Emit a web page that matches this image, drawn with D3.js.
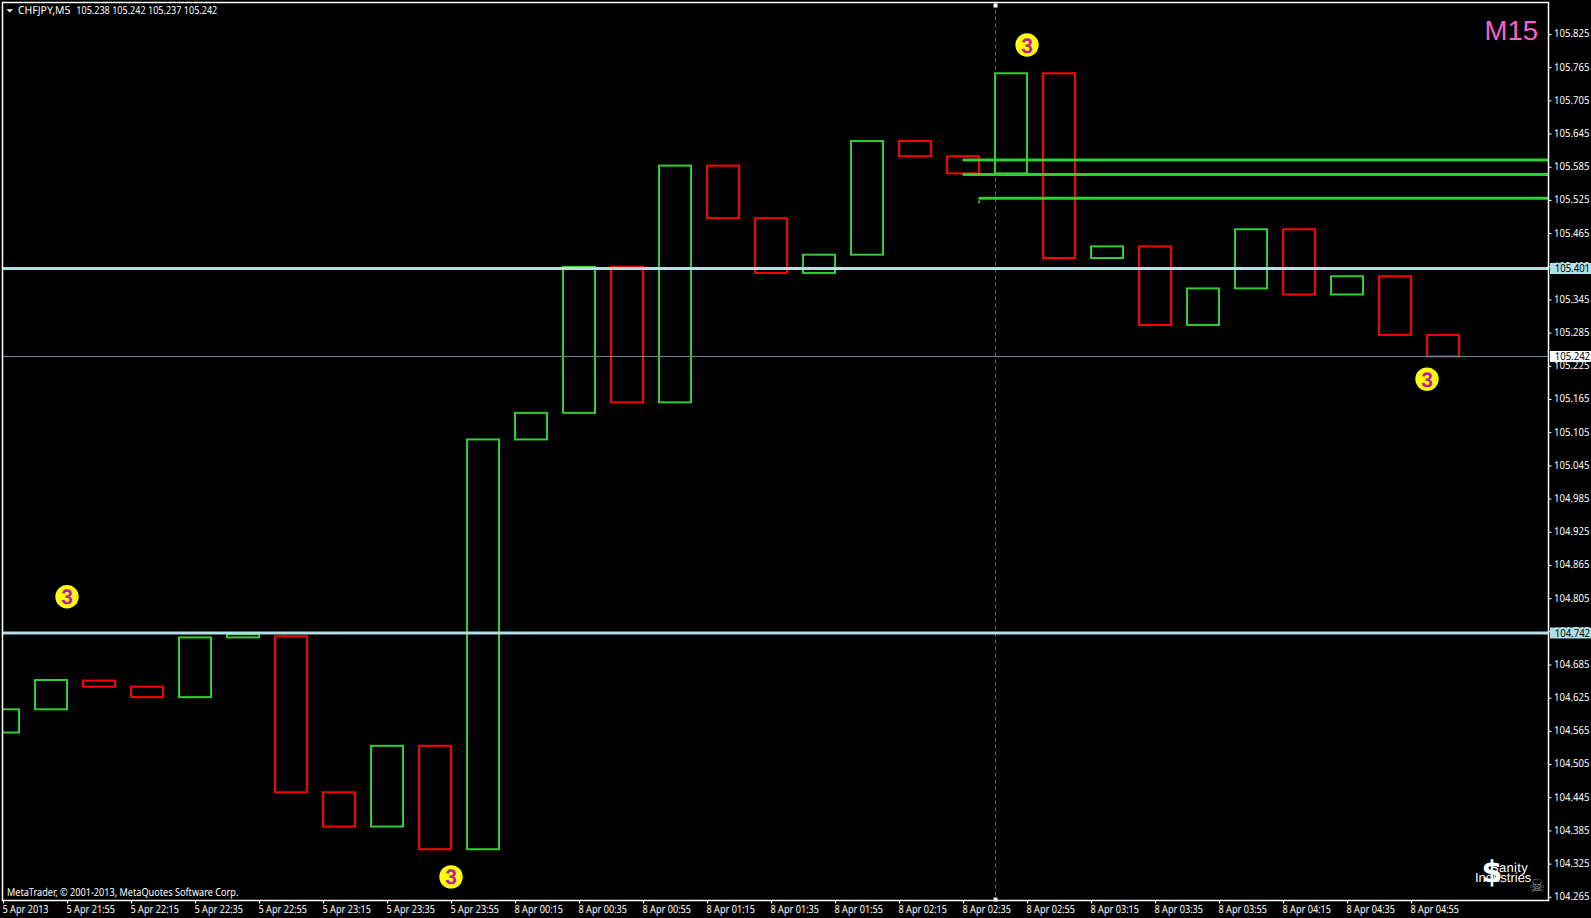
<!DOCTYPE html>
<html><head><meta charset="utf-8">
<script src="https://cdn.jsdelivr.net/npm/d3@7"></script>
<style>
html,body{margin:0;padding:0;background:#000;overflow:hidden}
svg{display:block}
text{font-family:"Noto Sans",sans-serif;fill:#fff;text-rendering:geometricPrecision}
</style></head><body>
<svg id="c" width="1591" height="918"></svg>
<script>
const symbolName = "CHFJPY,M5";
const symbolValues = "105.238 105.242 105.237 105.242";
const copyright = "MetaTrader, © 2001-2013, MetaQuotes Software Corp.";
const timeframe = "M15";
const candleBars = [0,3,6,9,12,15,18,21,24,27,30,33,36,39,42,45,48,51,54,57,60,63,66,69,72,75,78,81,84,87,90];
const opens  = [104.562,104.604,104.656,104.645,104.626,104.734,104.736,104.454,104.392,104.538,104.351,105.092,105.140,105.404,105.159,105.587,105.492,105.393,105.426,105.6315,105.604,105.573,105.754,105.420,105.441,105.299,105.365,105.472,105.354,105.387,105.281];
const closes = [104.604,104.657,104.645,104.626,104.734,104.740,104.454,104.392,104.538,104.351,105.092,105.140,105.404,105.159,105.587,105.492,105.393,105.426,105.6315,105.604,105.573,105.754,105.420,105.441,105.299,105.365,105.472,105.354,105.387,105.281,105.242];
const priceTicks = [105.825,105.765,105.705,105.645,105.585,105.525,105.465,105.405,105.345,105.285,105.225,105.165,105.105,105.045,104.985,104.925,104.865,104.805,104.745,104.685,104.625,104.565,104.505,104.445,104.385,104.325,104.265];
const timeTickBars = [0,4,8,12,16,20,24,28,32,36,40,44,48,52,56,60,64,68,72,76,80,84,88];
const timeLabels = ["5 Apr 2013","5 Apr 21:55","5 Apr 22:15","5 Apr 22:35","5 Apr 22:55","5 Apr 23:15","5 Apr 23:35","5 Apr 23:55","8 Apr 00:15","8 Apr 00:35","8 Apr 00:55","8 Apr 01:15","8 Apr 01:35","8 Apr 01:55","8 Apr 02:15","8 Apr 02:35","8 Apr 02:55","8 Apr 03:15","8 Apr 03:35","8 Apr 03:55","8 Apr 04:15","8 Apr 04:35","8 Apr 04:55"];
const levelPrices = [105.401,104.742];
const currentPrice = 105.242;
const trendPrices = [105.597,105.571,105.528];
const trendStartBars = [60,60,61];
const crosshairBar = 62;
const badgeBars = [4,64,28,89];
const badgePrices = [104.8075,105.805,104.301,105.201];

const svg = d3.select("#c");
const L=2.5,T=2.5,R=1548.5,B=900.5;
const x = d3.scaleLinear().domain([0,88]).range([3,1411]);
const y = d3.scaleLinear().domain([105.825,104.265]).range([34,896.8]);
const UP="#32cd32",DOWN="#ff0000",LEVEL="#b0e0e6";
const fontSize="11px";
function squeeze(sel,k){
  sel.each(function(){
    const w=this.getComputedTextLength();
    this.setAttribute("textLength",w*k);
    this.setAttribute("lengthAdjust","spacingAndGlyphs");
  });
}

const defs=svg.append("defs");
defs.append("clipPath").attr("id","plot").append("rect").attr("x",L).attr("y",T).attr("width",R-L).attr("height",B-T);
const plot=svg.append("g").attr("clip-path","url(#plot)");

// crosshair
plot.append("line").attr("x1",x(crosshairBar)+.5).attr("x2",x(crosshairBar)+.5).attr("y1",T).attr("y2",B)
  .attr("stroke","#4f6a62").attr("stroke-dasharray","4 3");

// candles
plot.selectAll("rect.candle").data(candleBars).join("rect").attr("class","candle")
  .attr("x",d=>x(d-1)).attr("width",d=>x(d+1)-x(d-1))
  .attr("y",(d,i)=>y(Math.max(opens[i],closes[i])))
  .attr("height",(d,i)=>Math.abs(y(opens[i])-y(closes[i])))
  .attr("fill","none").attr("stroke-width",2)
  .attr("stroke",(d,i)=>closes[i]>=opens[i]?UP:DOWN);

// horizontal levels
plot.selectAll("line.level").data(levelPrices).join("line").attr("class","level")
  .attr("x1",L).attr("x2",R).attr("y1",d=>y(d)).attr("y2",d=>y(d))
  .attr("stroke",LEVEL).attr("stroke-width",3);
plot.append("line").attr("x1",L).attr("x2",R).attr("y1",y(currentPrice)).attr("y2",y(currentPrice))
  .attr("stroke","#778899").attr("stroke-width",1);

// green trend lines with their small start marks
plot.selectAll("line.trend").data(trendPrices).join("line").attr("class","trend")
  .attr("x1",(d,i)=>x(trendStartBars[i])).attr("x2",R).attr("y1",d=>y(d)).attr("y2",d=>y(d))
  .attr("stroke",UP).attr("stroke-width",3);
plot.selectAll("line.trendmark").data(trendPrices).join("line").attr("class","trendmark")
  .attr("x1",(d,i)=>x(trendStartBars[i])-1.5).attr("x2",(d,i)=>x(trendStartBars[i])).attr("y1",d=>y(d)).attr("y2",d=>y(d))
  .attr("stroke",UP).attr("stroke-width",1);
plot.append("path").attr("d",`M${x(61)-1.5} ${y(105.528)+3.5}h3M${x(61)} ${y(105.528)+1.5}v4`).attr("stroke",UP).attr("fill","none");

// circled 3 badges
const badge=svg.append("g").selectAll("g").data(badgeBars).join("g")
  .attr("transform",(d,i)=>`translate(${x(d)},${y(badgePrices[i])})`);
badge.append("circle").attr("r",11.7).attr("fill","#ffff00");
badge.append("text").text("3").attr("text-anchor","middle").attr("y",7.5)
  .style("font-family","'Liberation Sans'").style("font-weight","bold").style("font-size","21px").style("fill","#c01ea0");

// frame
svg.append("rect").attr("x",L).attr("y",T).attr("width",R-L).attr("height",B-T).attr("fill","none").attr("stroke","#fff").attr("stroke-width",1.5);
svg.selectAll("rect.mk").data([T+3,B-1]).join("rect").attr("class","mk").attr("x",x(crosshairBar)-1.5).attr("y",d=>d-2).attr("width",4).attr("height",4).attr("fill","#fff");

// axes
const yAxis=d3.axisRight(y).tickValues(priceTicks).tickFormat(d3.format(".3f")).tickSize(3).tickPadding(3);
const ya=svg.append("g").attr("transform",`translate(${R},0)`).call(yAxis);
ya.select(".domain").remove();
ya.selectAll("line").attr("stroke","#fff");
ya.selectAll("text").style("font-size",fontSize).style("fill","#fff").attr("x",5.5).attr("y",-.6).call(squeeze,.87);

const xAxis=d3.axisBottom(x).tickValues(timeTickBars).tickFormat((d,i)=>timeLabels[i]).tickSize(3);
const xa=svg.append("g").attr("transform",`translate(0,${B})`).call(xAxis);
xa.select(".domain").remove();
xa.selectAll("line").attr("stroke","#fff");
xa.selectAll("text").style("font-size",fontSize).style("fill","#fff").attr("text-anchor","start").attr("x",-1).attr("y",5).call(squeeze,.83);

// price badges
const tags=[...levelPrices.map(p=>({p,f:LEVEL})),{p:currentPrice,f:"#fff"}];
const tg=svg.append("g").selectAll("g").data(tags).join("g").attr("transform",d=>`translate(1550,${y(d.p)})`);
tg.append("rect").attr("x",0).attr("y",-5.5).attr("width",41).attr("height",11).attr("fill",d=>d.f);
tg.append("text").text(d=>d3.format(".3f")(d.p)).attr("x",4.7).attr("y",3.8).style("font-size",fontSize).style("fill","#000").call(squeeze,.87);

// texts
svg.append("path").attr("d","M6.5 9.3 L13 9.3 L9.75 12.5 Z").attr("fill","#fff");
svg.append("text").attr("x",18).attr("y",14).style("font-size",fontSize).text(symbolName).attr("textLength",52.5).attr("lengthAdjust","spacingAndGlyphs");
svg.append("text").attr("x",76.3).attr("y",14).style("font-size",fontSize).text(symbolValues).attr("textLength",141).attr("lengthAdjust","spacingAndGlyphs");
svg.append("text").attr("x",7).attr("y",896).style("font-size",fontSize).text(copyright).call(squeeze,.83);
svg.append("text").attr("x",1538).attr("y",40).attr("text-anchor","end").style("font-family","'Liberation Sans'").style("font-size","27.5px").style("fill","#fa64c8").text(timeframe);

// logo
const logo=svg.append("g");
logo.append("text").attr("x",1492).attr("y",882).attr("text-anchor","middle").style("font-family","'DejaVu Sans'").style("font-weight","bold").style("font-size","30px").text("$");
logo.append("text").attr("x",1490).attr("y",872).style("font-family","'Liberation Sans'").style("font-size","13px").style("letter-spacing",".3px").text("Sanity");
logo.append("text").attr("x",1475).attr("y",882).style("font-family","'Liberation Sans'").style("font-size","13px").text("Industries");
logo.append("text").attr("x",1537).attr("y",892).attr("text-anchor","middle").style("font-family","'DejaVu Sans'").style("font-size","18px").style("fill","#888").text("☠");
</script></body></html>
